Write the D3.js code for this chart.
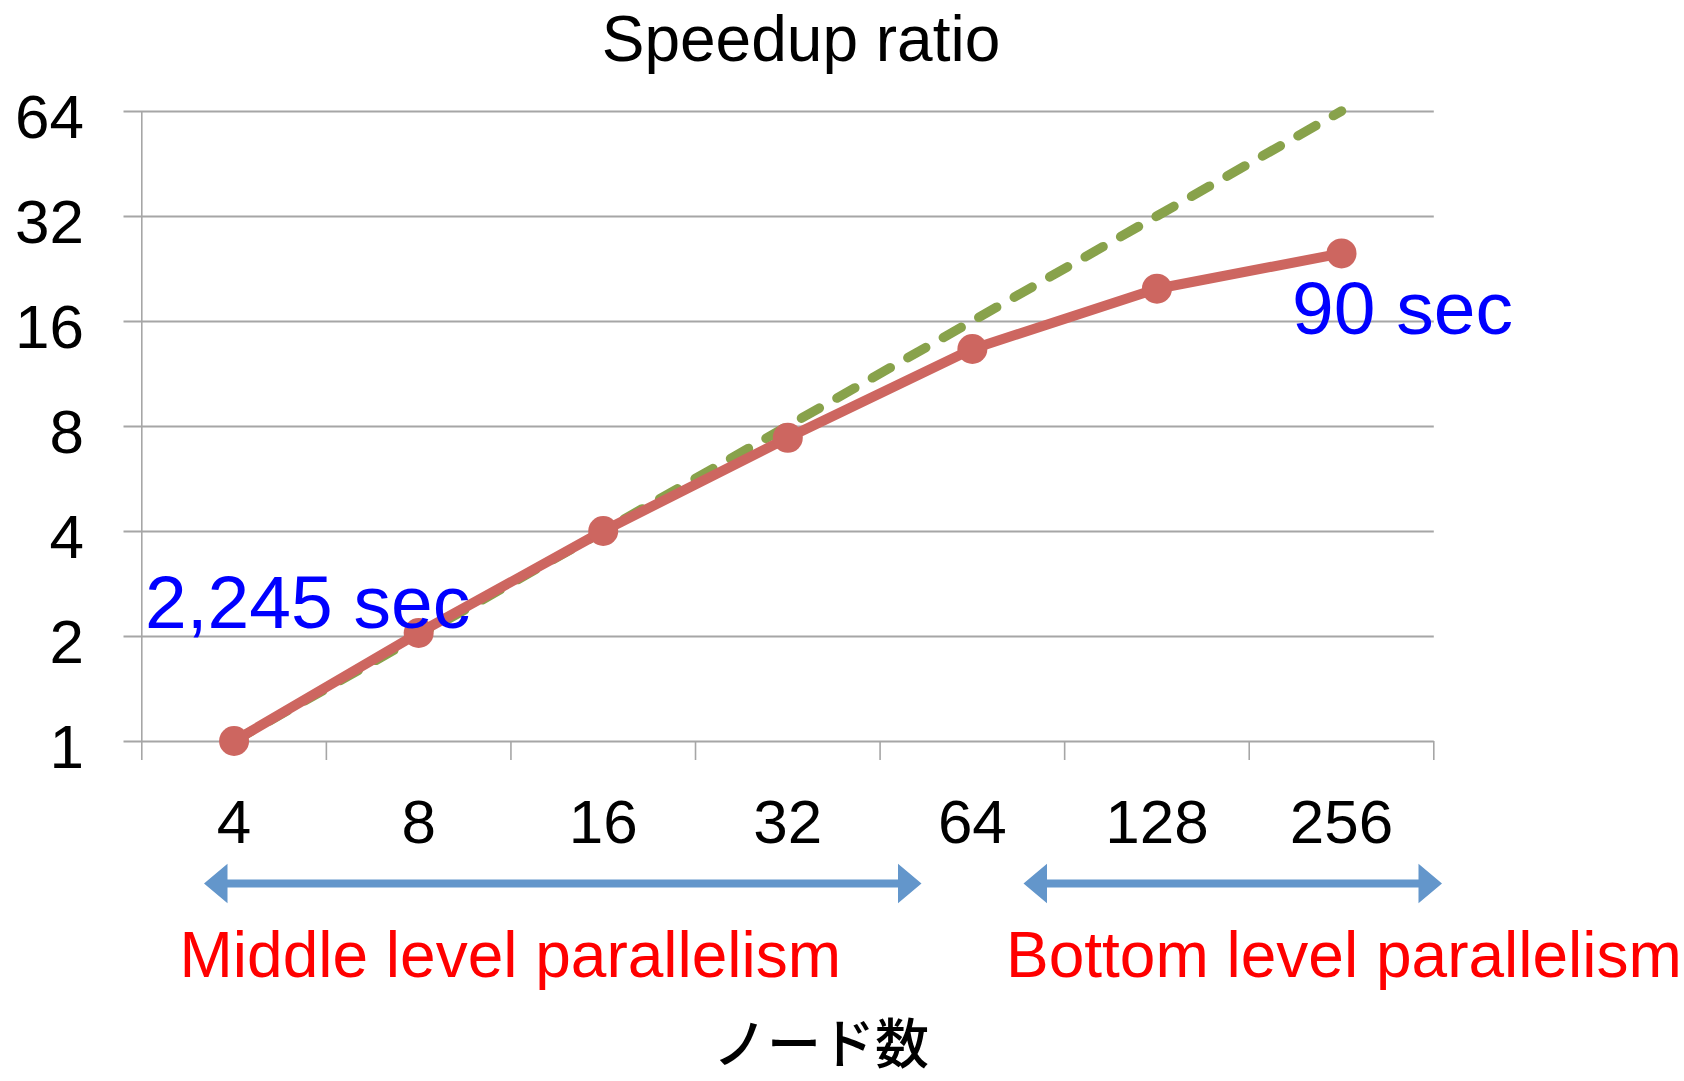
<!DOCTYPE html>
<html>
<head>
<meta charset="utf-8">
<script src="https://cdn.jsdelivr.net/npm/d3@7"></script>
<style>
  html, body { margin: 0; padding: 0; background: #ffffff; }
  svg { display: block; }
  text { font-family: "Liberation Sans", Arial, sans-serif; }
</style>
</head>
<body>
<svg id="chart" width="1684" height="1081"></svg>
<script>
// Node counts along the x axis
const nodeCounts = ["4", "8", "16", "32", "64", "128", "256"];
// Measured speedup relative to 4 nodes
const measuredSpeedup = [1, 2.04, 4.0, 7.4, 13.3, 19.8, 25.0];
// Ideal (linear) speedup
const idealSpeedup = [1, 2, 4, 8, 16, 32, 64];
// Y axis tick values (log2 scale)
const yTicks = [1, 2, 4, 8, 16, 32, 64];

const svg = d3.select("#chart");

const plotLeft = 141.8, plotRight = 1433.8;
const plotTop = 111, plotBottom = 741;
const gridLeft = 123.5;

const x = d3.scaleBand().domain(nodeCounts).range([plotLeft, plotRight]).padding(0);
const y = d3.scaleLog().base(2).domain([1, 64]).range([plotBottom, plotTop]);
const cx = d => x(d) + x.bandwidth() / 2;

const gridColor = "#a6a6a6";

// Horizontal gridlines + y labels
const yAxis = d3.axisLeft(y)
  .tickValues(yTicks)
  .tickFormat(d3.format("d"))
  .tickSize(-(plotRight - gridLeft))
  .tickPadding(gridLeft - 84);

svg.append("g")
  .attr("transform", `translate(${gridLeft},0)`)
  .call(yAxis)
  .call(g => g.select(".domain").remove())
  .call(g => g.selectAll(".tick line").attr("stroke", gridColor).attr("stroke-width", 2.2))
  .call(g => g.selectAll(".tick text")
    .attr("dy", null)
    .attr("y", 26)
    .attr("fill", "#000")
    .style("font-size", "62px")
    .style("font-family", "'Liberation Sans', Arial, sans-serif"));

// Vertical axis line
svg.append("line")
  .attr("x1", plotLeft).attr("x2", plotLeft)
  .attr("y1", plotTop).attr("y2", plotBottom + 19)
  .attr("stroke", gridColor).attr("stroke-width", 1.6);

// Category boundary ticks below the baseline
const boundaries = nodeCounts.map(d => x(d)).concat([plotRight]);
svg.append("g").selectAll("line")
  .data(boundaries.slice(1))
  .join("line")
  .attr("x1", d => d).attr("x2", d => d)
  .attr("y1", plotBottom).attr("y2", plotBottom + 19)
  .attr("stroke", gridColor).attr("stroke-width", 1.6);

// X labels at band centres
const xAxis = d3.axisBottom(x).tickSize(0).tickPadding(0);
svg.append("g")
  .attr("transform", `translate(0,${plotBottom})`)
  .call(xAxis)
  .call(g => g.select(".domain").remove())
  .call(g => g.selectAll(".tick text")
    .attr("dy", null)
    .attr("y", 843 - plotBottom)
    .attr("fill", "#000")
    .style("font-size", "62px")
    .style("font-family", "'Liberation Sans', Arial, sans-serif"));

// Ideal speedup (dashed)
const idealLine = d3.line().x((d, i) => cx(nodeCounts[i])).y(d => y(d));
svg.append("path")
  .datum(idealSpeedup)
  .attr("d", idealLine)
  .attr("fill", "none")
  .attr("stroke", "#88a24b")
  .attr("stroke-width", 9.5)
  .attr("stroke-linecap", "round")
  .attr("stroke-dasharray", "20.5,20.3");

// Measured speedup
const measuredLine = d3.line().x((d, i) => cx(nodeCounts[i])).y(d => y(d));
svg.append("path")
  .datum(measuredSpeedup)
  .attr("d", measuredLine)
  .attr("fill", "none")
  .attr("stroke", "#cd6660")
  .attr("stroke-width", 10)
  .attr("stroke-linejoin", "round");

svg.append("g").selectAll("circle")
  .data(measuredSpeedup)
  .join("circle")
  .attr("cx", (d, i) => cx(nodeCounts[i]))
  .attr("cy", d => y(d))
  .attr("r", 15)
  .attr("fill", "#cd6660");

// Title
svg.append("text")
  .attr("x", 801).attr("y", 61)
  .attr("text-anchor", "middle")
  .style("font-size", "64px")
  .attr("fill", "#000")
  .text("Speedup ratio");

// Elapsed-time annotations
svg.append("text")
  .attr("x", 145).attr("y", 627.5)
  .style("font-size", "75px")
  .attr("fill", "#0000ff")
  .text("2,245 sec");

svg.append("text")
  .attr("x", 1292).attr("y", 333.5)
  .style("font-size", "75px")
  .attr("fill", "#0000ff")
  .text("90 sec");

// Double-headed arrows marking parallelism ranges
function doubleArrow(x0, x1, yc) {
  const head = 23.5, half = 19.7, shaft = 4;
  const pts = [
    [x0, yc], [x0 + head, yc - half], [x0 + head, yc - shaft],
    [x1 - head, yc - shaft], [x1 - head, yc - half], [x1, yc],
    [x1 - head, yc + half], [x1 - head, yc + shaft],
    [x0 + head, yc + shaft], [x0 + head, yc + half]
  ];
  svg.append("path")
    .attr("d", d3.line()(pts) + "Z")
    .attr("fill", "#6396cb");
}
doubleArrow(204, 921.5, 883.5);
doubleArrow(1023.5, 1442, 883.5);

svg.append("text")
  .attr("x", 179.5).attr("y", 976.5)
  .style("font-size", "64px")
  .attr("fill", "#ff0000")
  .text("Middle level parallelism");

svg.append("text")
  .attr("x", 1006).attr("y", 976.5)
  .style("font-size", "64px")
  .attr("fill", "#ff0000")
  .text("Bottom level parallelism");

// X axis title
svg.append("text")
  .attr("x", 713).attr("y", 1064)
  .style("font-family", "'Noto Sans CJK JP', sans-serif")
  .style("font-size", "54px")
  .style("font-weight", "500")
  .attr("fill", "#000")
  .text("ノード数");
</script>
</body>
</html>
